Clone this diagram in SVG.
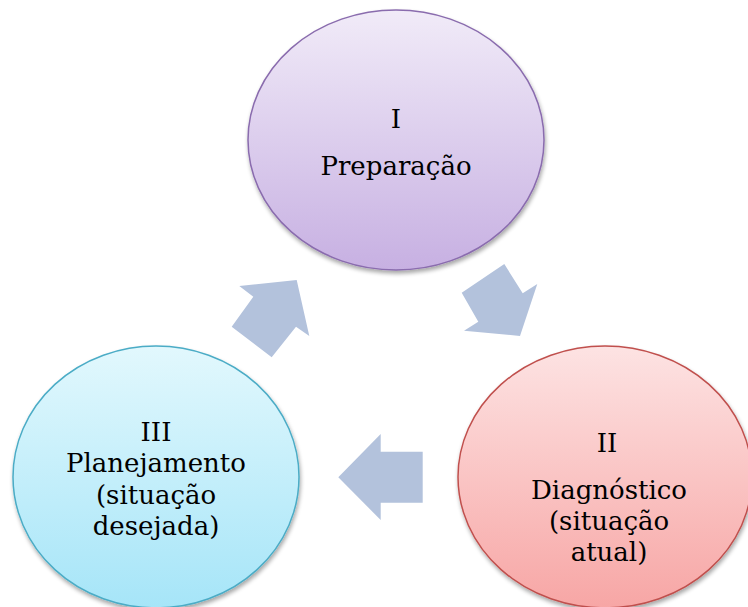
<svg xmlns="http://www.w3.org/2000/svg" width="748" height="607" viewBox="0 0 748 607">
<style>
.lbl{font-family:"DejaVu Serif","Liberation Serif",serif;font-size:26px;fill:#000;text-anchor:middle}
.arrow{fill:#b3c2dc}
</style>
<defs>
<linearGradient id="gP" x1="0" y1="0" x2="0" y2="1"><stop offset="0" stop-color="#f1ebf8"/><stop offset="1" stop-color="#c7b0e2"/></linearGradient>
<linearGradient id="gR" x1="0" y1="0" x2="0" y2="1"><stop offset="0" stop-color="#fde3e3"/><stop offset="1" stop-color="#f7a6a5"/></linearGradient>
<linearGradient id="gB" x1="0" y1="0" x2="0" y2="1"><stop offset="0" stop-color="#e2f8fd"/><stop offset="1" stop-color="#a6e5f8"/></linearGradient>
<filter id="sh" x="-10%" y="-10%" width="120%" height="125%"><feGaussianBlur in="SourceAlpha" stdDeviation="2"/><feOffset dx="1" dy="3" result="b"/><feComponentTransfer><feFuncA type="linear" slope="0.35"/></feComponentTransfer><feMerge><feMergeNode/><feMergeNode in="SourceGraphic"/></feMerge></filter>
</defs>
<rect width="748" height="607" fill="#fff"/>
<g id="connectors">
<polygon class="arrow" points="239.3,286 296.7,280 309.3,336 296,326.7 271.7,357.3 231.7,326.7 253.3,296.7"/>
<polygon class="arrow" points="461.7,292.7 504.3,264 522.7,293.3 537.3,284 520,336 464,330.7 478.3,321.7"/>
<polygon class="arrow" points="422.7,451.7 380.7,451.7 380.7,434 338.3,477.3 380.7,520 380.7,502.7 422.7,502.7"/>
</g>
<g id="node-preparacao">
<ellipse cx="396" cy="140" rx="148" ry="130" fill="url(#gP)" stroke="#8a6cae" stroke-width="1.5" filter="url(#sh)"/>
<text class="lbl" x="396" y="128">I</text>
<text class="lbl" x="396" y="175">Preparação</text>
</g>
<g id="node-diagnostico">
<ellipse cx="605" cy="477" rx="147" ry="131" fill="url(#gR)" stroke="#c0504d" stroke-width="1.5" filter="url(#sh)"/>
<text class="lbl" x="607" y="452">II</text>
<text class="lbl" x="609" y="499">Diagnóstico</text>
<text class="lbl" x="609" y="530">(situação</text>
<text class="lbl" x="609" y="561">atual)</text>
</g>
<g id="node-planejamento">
<ellipse cx="156" cy="477" rx="143" ry="131" fill="url(#gB)" stroke="#4bacc6" stroke-width="1.5" filter="url(#sh)"/>
<text class="lbl" x="156" y="441">III</text>
<text class="lbl" x="156" y="472">Planejamento</text>
<text class="lbl" x="156" y="504">(situação</text>
<text class="lbl" x="156" y="535">desejada)</text>
</g>
</svg>
